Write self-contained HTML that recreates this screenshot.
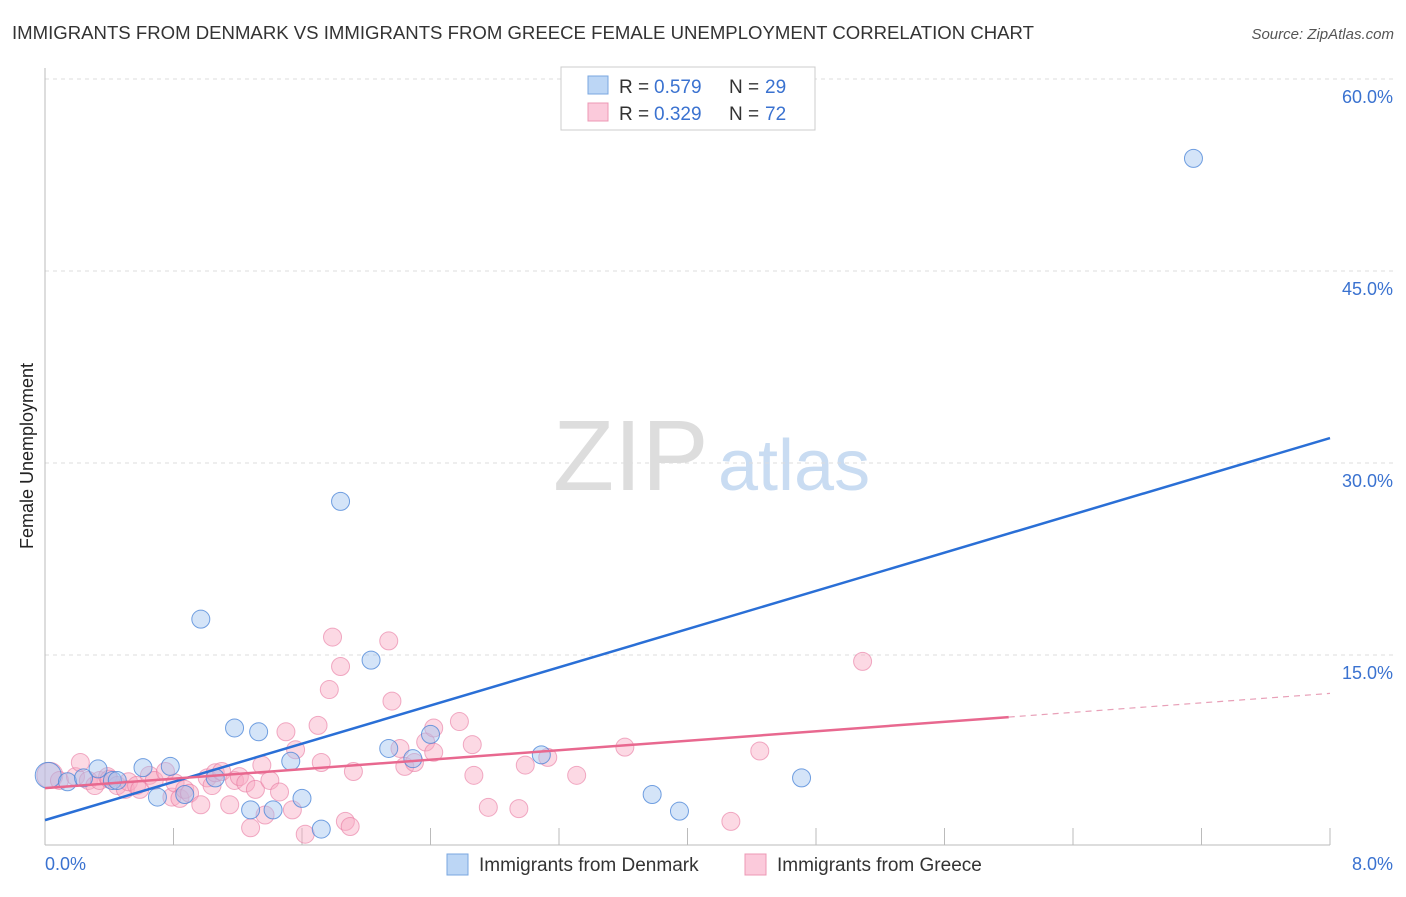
<!DOCTYPE html>
<html><head><meta charset="utf-8"><style>
body{margin:0;background:#fff;font-family:"Liberation Sans",sans-serif}
svg text{font-family:"Liberation Sans",sans-serif}
</style></head><body>
<svg id="chart" width="1406" height="892" xmlns="http://www.w3.org/2000/svg">
<text x="12" y="39" font-size="18" fill="#333" textLength="1022" lengthAdjust="spacingAndGlyphs">IMMIGRANTS FROM DENMARK VS IMMIGRANTS FROM GREECE FEMALE UNEMPLOYMENT CORRELATION CHART</text>
<text x="1394" y="39" font-size="15" fill="#555" font-style="italic" text-anchor="end">Source: ZipAtlas.com</text>
<text x="0" y="0" font-size="18" fill="#222" transform="translate(33,456) rotate(-90)" text-anchor="middle">Female Unemployment</text>
<text x="553" y="490" font-size="100" fill="#ddd" font-family="Liberation Serif">ZIP</text>
<text x="718" y="490" font-size="72" fill="#c9dcf2">atlas</text>
<g id="grid"></g><g id="axes"></g><g id="pts"></g><g id="lines"></g>
<g>
<rect x="561" y="67" width="254" height="63" fill="#fff" stroke="#ccc"/>
<rect x="588" y="76" width="20" height="18" fill="#bcd6f5" stroke="#7aa7e0"/>
<text x="619" y="93" font-size="19" fill="#333">R =</text>
<text x="654" y="93" font-size="19" fill="#3a72d0">0.579</text>
<text x="729" y="93" font-size="19" fill="#333">N =</text>
<text x="765" y="93" font-size="19" fill="#3a72d0">29</text>
<rect x="588" y="103" width="20" height="18" fill="#fbcadb" stroke="#ec98b4"/>
<text x="619" y="120" font-size="19" fill="#333">R =</text>
<text x="654" y="120" font-size="19" fill="#3a72d0">0.329</text>
<text x="729" y="120" font-size="19" fill="#333">N =</text>
<text x="765" y="120" font-size="19" fill="#3a72d0">72</text>
</g>
<g>
<rect x="447" y="854" width="21" height="21" fill="#bcd6f5" stroke="#7aa7e0"/>
<text x="479" y="871" font-size="19" fill="#333">Immigrants from Denmark</text>
<rect x="745" y="854" width="21" height="21" fill="#fbcadb" stroke="#ec98b4"/>
<text x="777" y="871" font-size="19" fill="#333">Immigrants from Greece</text>
</g>
</svg>
<script>
const yTicks=[15,30,45,60];
const yTickLabels=["15.0%","30.0%","45.0%","60.0%"];
const xTicks=[0,0.8,1.6,2.4,3.2,4.0,4.8,5.6,6.4,7.2,8];
const denmarkX=[0.02,0.14,0.24,0.33,0.42,0.45,0.61,0.70,0.78,0.87,0.97,1.06,1.18,1.28,1.33,1.42,1.53,1.60,1.72,1.84,2.03,2.14,2.29,2.40,3.09,3.78,3.95,4.71,7.15];
const denmarkY=[5.6,5.1,5.4,6.1,5.2,5.2,6.2,3.9,6.3,4.1,17.8,5.4,9.3,2.9,9.0,2.9,6.7,3.8,1.4,27.0,14.6,7.7,6.9,8.8,7.2,4.1,2.8,5.4,53.8];
const greeceX=[0.03,0.09,0.19,0.22,0.27,0.31,0.34,0.39,0.40,0.45,0.50,0.52,0.57,0.59,0.65,0.68,0.75,0.79,0.81,0.84,0.87,0.90,0.97,1.01,1.04,1.06,1.10,1.15,1.18,1.21,1.25,1.28,1.31,1.35,1.37,1.40,1.46,1.50,1.54,1.56,1.62,1.70,1.72,1.77,1.79,1.84,1.87,1.90,1.92,2.14,2.16,2.21,2.24,2.30,2.37,2.42,2.42,2.58,2.66,2.67,2.76,2.95,2.99,3.13,3.31,3.61,4.27,4.45,5.09];
const greeceY=[5.6,5.2,5.5,6.6,5.2,4.8,5.2,5.5,5.3,4.8,4.5,5.1,4.8,4.5,5.6,5.2,5.9,3.9,5.0,3.8,4.5,4.2,3.3,5.4,4.8,5.8,5.9,3.3,5.2,5.5,5.0,1.5,4.5,6.4,2.5,5.2,4.3,9.0,2.9,7.6,1.0,9.5,6.6,12.3,16.4,14.1,2.0,1.6,5.9,16.1,11.4,7.7,6.3,6.6,8.2,9.3,7.4,9.8,8.0,5.6,3.1,3.0,6.4,7.0,5.6,7.8,2.0,7.5,14.5];
const denmarkTrend=[[0,2.1],[8,31.95]];
const greeceTrend=[[0,4.6],[6.0,10.15],[8,12.0]];
const NS="http://www.w3.org/2000/svg";
const X=v=>45+v/8*1285, Y=v=>847-v/15*192;
function mk(t,a,p){const e=document.createElementNS(NS,t);for(const k in a)e.setAttribute(k,a[k]);document.getElementById(p).appendChild(e);return e;}
yTicks.forEach((t,i)=>{
 const g=mk('line',{x1:45,x2:1393,y1:Y(t),y2:Y(t),stroke:'#ddd','stroke-dasharray':'4,4'},'grid');
 
 
 const l=mk('text',{x:1393,y:Y(t)+24,'font-size':18,fill:'#3a72d0','text-anchor':'end'},'grid');
 l.textContent=yTickLabels[i];
 
 
});
const ax=mk('line',{x1:45,x2:45,y1:68,y2:845,stroke:'#bbb'},'axes');


const bx=mk('line',{x1:45,x2:1330,y1:845,y2:845,stroke:'#bbb'},'axes');


xTicks.forEach(t=>{
 const k=mk('line',{x1:X(t),x2:X(t),y1:828,y2:845,stroke:'#bbb'},'axes');
 
 
});
[[0,'0.0%','start'],[8,'8.0%','end']].forEach(d=>{
 const l=mk('text',{x:d[0]==0?45:1393,y:870,'font-size':18,fill:'#3a72d0','text-anchor':d[2]},'axes');
 l.textContent=d[1];
 
 
});
greeceX.forEach((x,i)=>{
 const c=mk('circle',{cx:X(x),cy:Y(greeceY[i]),r:i==0?13:9,fill:'rgba(248,170,196,0.45)',stroke:'rgba(232,120,160,0.6)','stroke-width':1},'pts');
 
 
});
denmarkX.forEach((x,i)=>{
 const c=mk('circle',{cx:X(x),cy:Y(denmarkY[i]),r:i==0?13:9,fill:'rgba(160,196,240,0.45)',stroke:'rgba(70,130,215,0.75)','stroke-width':1},'pts');
 
 
});
const bl=mk('line',{x1:X(denmarkTrend[0][0]),y1:Y(denmarkTrend[0][1]),x2:X(denmarkTrend[1][0]),y2:Y(denmarkTrend[1][1]),stroke:'#2a6fd6','stroke-width':2.5},'lines');


const pl=mk('line',{x1:X(greeceTrend[0][0]),y1:Y(greeceTrend[0][1]),x2:X(greeceTrend[1][0]),y2:Y(greeceTrend[1][1]),stroke:'#e8688f','stroke-width':2.5},'lines');


const pd=mk('line',{x1:X(greeceTrend[1][0]),y1:Y(greeceTrend[1][1]),x2:X(greeceTrend[2][0]),y2:Y(greeceTrend[2][1]),stroke:'#e8a0b8','stroke-width':1.2,'stroke-dasharray':'6,5'},'lines');


</script>
</body></html>
